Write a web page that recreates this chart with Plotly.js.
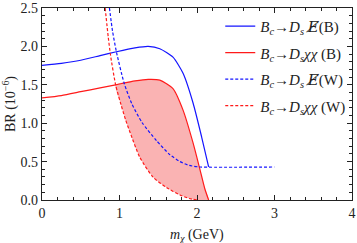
<!DOCTYPE html>
<html>
<head>
<meta charset="utf-8">
<script src="https://cdn.plot.ly/plotly-3.0.1.min.js"></script>
<style>html,body{margin:0;padding:0;background:#fff;}#chart{width:357px;height:243px;}</style>
</head>
<body>
<div id="chart"></div>
<script>
// Bc -> Ds E-miss (B): blue solid
const blueBx = [0, 0.25, 0.5, 0.75, 0.96, 1.2, 1.37, 1.52, 1.69, 1.82, 1.95, 2.06, 2.15];
const blueBy = [1.753, 1.78, 1.82, 1.88, 1.93, 1.98, 2.0, 1.97, 1.86, 1.65, 1.26, 0.82, 0.43];
// Bc -> Ds chi chi (B): red solid
const redBx = [0, 0.25, 0.5, 0.75, 0.95, 1.2, 1.37, 1.52, 1.69, 1.82, 1.95, 2.04, 2.10, 2.15];
const redBy = [1.33, 1.36, 1.41, 1.46, 1.50, 1.55, 1.57, 1.56, 1.45, 1.17, 0.74, 0.39, 0.15, 0.0];
// Bc -> Ds E-miss (W): blue dashed
const blueWx = [0.87, 0.91, 0.96, 1.06, 1.16, 1.29, 1.48, 1.65, 1.78, 1.90, 2.04, 3.0];
const blueWy = [2.5, 2.2, 1.93, 1.52, 1.25, 1.01, 0.77, 0.59, 0.50, 0.45, 0.43, 0.43];
// Bc -> Ds chi chi (W): red dashed
const redWx = [0.815, 0.855, 0.885, 0.95, 1.02, 1.08, 1.14, 1.26, 1.43, 1.61, 1.78, 1.90, 2.0];
const redWy = [2.5, 2.12, 1.88, 1.50, 1.24, 1.04, 0.87, 0.56, 0.30, 0.16, 0.065, 0.02, 0.0];

const slashE = '<span style="font-family:\'DejaVu Serif\'"><i>E̸</i></span>';
const names = [
  '<i>B</i><sub><i>c</i></sub>→<i>D</i><sub><i>s</i></sub> ' + slashE + '(B)',
  '<i>B</i><sub><i>c</i></sub>→<i>D</i><sub><i>s</i></sub><i>χχ</i> (B)',
  '<i>B</i><sub><i>c</i></sub>→<i>D</i><sub><i>s</i></sub> ' + slashE + '(W)',
  '<i>B</i><sub><i>c</i></sub>→<i>D</i><sub><i>s</i></sub><i>χχ</i> (W)'
];
const xTitle = '<i>m</i><sub><i>χ</i></sub> (GeV)';
const yTitle = 'BR (10<sup>−6</sup>)';
const xTicks = [0, 1, 2, 3, 4];
const xTickText = ['0', '1', '2', '3', '4'];
const yTicks = [0, 0.5, 1.0, 1.5, 2.0, 2.5];
const yTickText = ['0.0', '0.5', '1.0', '1.5', '2.0', '2.5'];

// shaded band between red dashed (W) and red solid (B) where W < B
const cross = 0.95;
const fx = [], fy = [];
redBx.forEach((x, i) => { if (x >= cross) { fx.push(x); fy.push(redBy[i]); } });
for (let i = redWx.length - 1; i >= 0; i--) { if (redWx[i] >= cross) { fx.push(redWx[i]); fy.push(redWy[i]); } }

const BLUE = '#1414ff', RED = '#ff1a1a';
const sp = {shape: 'spline', smoothing: 0.6};
const traces = [
  {x: fx, y: fy, mode: 'lines', fill: 'toself', fillcolor: 'rgba(250,175,175,0.95)',
   line: {width: 0, shape: 'spline', smoothing: 0.6}, showlegend: false, hoverinfo: 'skip'},
  {x: blueBx, y: blueBy, mode: 'lines', name: names[0], legendgroup: 'a', line: Object.assign({color: BLUE, width: 1.2}, sp)},
  {x: redBx, y: redBy, mode: 'lines', name: names[1], legendgroup: 'b', line: Object.assign({color: RED, width: 1.2}, sp)},
  {x: blueWx, y: blueWy, mode: 'lines', name: names[2], legendgroup: 'c', line: Object.assign({color: BLUE, width: 1.2, dash: '3px,2px'}, sp)},
  {x: redWx, y: redWy, mode: 'lines', name: names[3], legendgroup: 'd', line: Object.assign({color: RED, width: 1.2, dash: '3px,2px'}, sp)}
];

const axFont = {family: 'Liberation Serif, Times New Roman, serif', size: 14, color: '#222'};
const layout = {
  width: 357, height: 243,
  margin: {l: 42, r: 5, t: 8, b: 43},
  paper_bgcolor: '#fff', plot_bgcolor: '#fff',
  font: axFont,
  showlegend: true,
  legend: {x: 0.575, y: 0.99, xanchor: 'left', yanchor: 'top', bgcolor: 'rgba(0,0,0,0)',
           font: {family: 'Liberation Serif, serif', size: 15, color: '#222'}, tracegroupgap: 4,
           itemwidth: 30},
  xaxis: {range: [0, 4], tickvals: xTicks, ticktext: xTickText, ticks: 'inside', ticklen: 5, tickwidth: 1,
          tickcolor: '#222', showline: true, linecolor: '#222', linewidth: 1.3, mirror: 'allticks',
          showgrid: false, zeroline: false, tickfont: axFont,
          minor: {dtick: 0.2, ticklen: 3, tickcolor: '#222', ticks: 'inside', showgrid: false}},
  yaxis: {range: [0, 2.5], tickvals: yTicks, ticktext: yTickText, ticks: 'inside', ticklen: 5, tickwidth: 1,
          tickcolor: '#222', showline: true, linecolor: '#222', linewidth: 1.3, mirror: 'allticks',
          showgrid: false, zeroline: false, tickfont: axFont,
          minor: {dtick: 0.1, ticklen: 3, tickcolor: '#222', ticks: 'inside', showgrid: false},
          title: {text: yTitle, font: axFont, standoff: 6}},
  annotations: [
    {text: xTitle, xref: 'paper', yref: 'paper', x: 0.5, y: -0.185, xanchor: 'center', yanchor: 'middle',
     showarrow: false, font: axFont}
  ]
};
Plotly.newPlot('chart', traces, layout, {displayModeBar: false, staticPlot: true});
</script>
</body>
</html>
